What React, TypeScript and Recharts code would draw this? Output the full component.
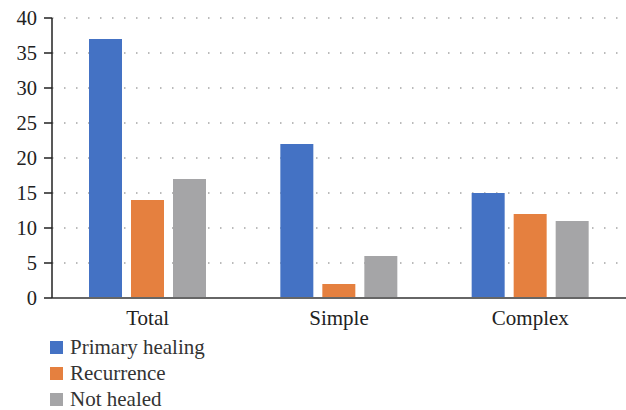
import {
  BarChart,
  Bar,
  XAxis,
  YAxis,
  CartesianGrid,
} from "recharts";

const categories = ["Total", "Simple", "Complex"];
const primaryHealing = [37, 22, 15];
const recurrence = [14, 2, 12];
const notHealed = [17, 6, 11];
const yTicks = [0, 5, 10, 15, 20, 25, 30, 35, 40];

const SERIES = [
  { key: "primary", name: "Primary healing", color: "#4472C4" },
  { key: "recurrence", name: "Recurrence", color: "#E5803F" },
  { key: "notHealed", name: "Not healed", color: "#A5A5A7" },
];

const data = categories.map((name, i) => ({
  name,
  primary: primaryHealing[i],
  recurrence: recurrence[i],
  notHealed: notHealed[i],
}));

const FONT = "'Liberation Serif', 'DejaVu Serif', serif";

// legend drawn as plain html so it doesn't shrink the plot area
const LegendBox = () => (
  <div
    style={{
      position: "absolute",
      left: 50,
      top: 334,
      fontFamily: FONT,
      fontSize: 21,
      color: "#333",
      lineHeight: 1,
    }}
  >
    {SERIES.map((s) => (
      <div
        key={s.key}
        style={{ display: "flex", alignItems: "center", height: 26 }}
      >
        <span
          style={{
            display: "inline-block",
            width: 13,
            height: 13,
            background: s.color,
            marginRight: 7,
          }}
        />
        {s.name}
      </div>
    ))}
  </div>
);

export default function App() {
  return (
    <div
      style={{
        position: "absolute",
        left: 0,
        top: 0,
        width: 626,
        height: 410,
        background: "#fff",
        overflow: "hidden",
      }}
    >
      <BarChart
        width={626}
        height={410}
        data={data}
        margin={{ top: 18, right: 0, bottom: 82, left: 0 }}
        barGap={9}
        barCategoryGap={37}
      >
        <CartesianGrid
          vertical={false}
          stroke="#777"
          strokeDasharray="1.5 10.5"
        />
        <XAxis
          dataKey="name"
          tickLine={false}
          axisLine={{ stroke: "#666", strokeWidth: 2 }}
          tick={{ fontFamily: FONT, fontSize: 21, fill: "#222" }}
          tickMargin={6}
          height={30}
        />
        <YAxis
          width={52}
          domain={[0, 40]}
          ticks={yTicks}
          interval={0}
          axisLine={{ stroke: "#222", strokeWidth: 1.5 }}
          tickLine={{ stroke: "#222", strokeWidth: 1.5 }}
          tickSize={8}
          tickMargin={7}
          tick={{ fontFamily: FONT, fontSize: 20.5, fill: "#222" }}
        />
        {SERIES.map((s) => (
          <Bar
            key={s.key}
            dataKey={s.key}
            name={s.name}
            fill={s.color}
            isAnimationActive={false}
          />
        ))}
      </BarChart>
      <LegendBox />
    </div>
  );
}
